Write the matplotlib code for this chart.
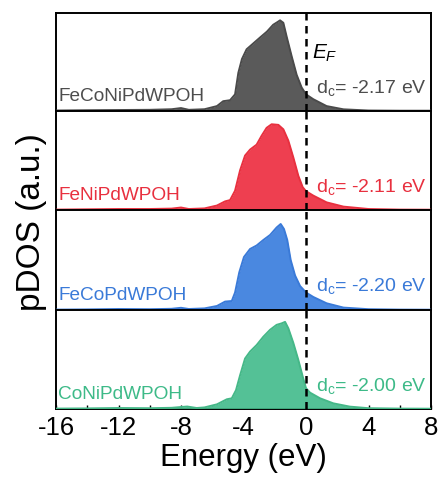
import matplotlib
matplotlib.use("Agg")
import matplotlib.pyplot as plt

plt.rcParams["font.family"] = ["Liberation Sans", "DejaVu Sans"]
plt.rcParams["mathtext.fontset"] = "custom"
plt.rcParams["mathtext.rm"] = "Liberation Sans"
plt.rcParams["mathtext.it"] = "Liberation Sans:italic"
plt.rcParams["axes.unicode_minus"] = False

# Projected d-band density of states (arbitrary units), energy relative to E_F
names = ["FeCoNiPdWPOH", "FeNiPdWPOH", "FeCoPdWPOH", "CoNiPdWPOH"]
d_centers = ["-2.17", "-2.11", "-2.20", "-2.00"]

energy_1 = [-16, -14, -12, -10, -8.6, -8.0, -7.5, -6.5, -5.7, -5.3, -4.86, -4.54, -4.33, -4.1, -3.8, -3.37,
            -2.94, -2.5, -2.1, -1.8, -1.66, -1.45, -1.24, -0.92, -0.6, -0.28, 0.0, 0.47, 1.32, 2.4, 4, 6, 8]
dos_1 = [0.005, 0.008, 0.01, 0.012, 0.018, 0.03, 0.012, 0.018, 0.05, 0.10, 0.11, 0.17, 0.39, 0.53, 0.63, 0.69,
         0.75, 0.81, 0.88, 0.91, 0.925, 0.90, 0.76, 0.56, 0.37, 0.24, 0.17, 0.12, 0.05, 0.017, 0.005, 0.003, 0.003]

energy_2 = [-16, -14, -12, -10, -8.6, -8.0, -7.5, -6.5, -5.7, -5.18, -4.86, -4.54, -4.22, -3.9, -3.58, -3.16,
            -2.84, -2.52, -2.2, -1.77, -1.45, -1.13, -0.81, -0.49, -0.21, 0.0, 0.47, 1.32, 2.4, 4, 6, 8]
dos_2 = [0.004, 0.007, 0.01, 0.01, 0.014, 0.025, 0.01, 0.016, 0.045, 0.087, 0.10, 0.195, 0.40, 0.55, 0.61, 0.66,
         0.75, 0.83, 0.866, 0.86, 0.815, 0.70, 0.53, 0.345, 0.23, 0.19, 0.145, 0.077, 0.034, 0.01, 0.004, 0.003]

energy_3 = [-16, -14, -12, -10, -8.6, -8.0, -7.5, -6.5, -5.7, -5.18, -4.75, -4.54, -4.27, -3.97, -3.58, -3.16,
            -2.73, -2.3, -1.88, -1.62, -1.41, -1.2, -0.98, -0.7, -0.38, 0.0, 0.47, 1.32, 2.4, 4, 6, 8]
dos_3 = [0.004, 0.006, 0.01, 0.008, 0.012, 0.022, 0.01, 0.016, 0.04, 0.084, 0.09, 0.175, 0.377, 0.53, 0.61, 0.645,
         0.70, 0.75, 0.825, 0.86, 0.81, 0.70, 0.50, 0.345, 0.24, 0.175, 0.13, 0.067, 0.024, 0.008, 0.004, 0.003]

energy_4 = [-16, -14, -12, -10, -8.6, -7.6, -7.0, -6.5, -5.7, -5.07, -4.75, -4.48, -4.22, -3.9, -3.58, -3.16,
            -2.73, -2.3, -1.88, -1.56, -1.34, -1.13, -0.81, -0.49, -0.21, 0.0, 0.26, 0.9, 1.75, 2.8, 4, 6, 8]
dos_4 = [0.004, 0.006, 0.01, 0.008, 0.012, 0.025, 0.01, 0.016, 0.047, 0.098, 0.108, 0.19, 0.34, 0.51, 0.58, 0.646,
         0.73, 0.80, 0.85, 0.865, 0.88, 0.815, 0.667, 0.495, 0.327, 0.21, 0.165, 0.108, 0.057, 0.024, 0.008, 0.004, 0.003]

energies = [energy_1, energy_2, energy_3, energy_4]
dos = [dos_1, dos_2, dos_3, dos_4]

fill_colors = ["#5a5a5a", "#ee3f50", "#4a88e0", "#54c196"]
edge_colors = ["#4a4a4a", "#e8303f", "#3a7ad8", "#45b888"]
text_colors = ["#4d4d4d", "#e8303f", "#3a7ad8", "#3dba88"]

x_ticks = [-16, -12, -8, -4, 0, 4, 8]

fig = plt.figure(figsize=(4.43, 4.83), dpi=100)
W, H = 443, 483
left, right = 56, 431
tops = [13, 111, 210, 310]
bottoms = [111, 210, 310, 409]

axes = []
for i in range(4):
    ax = fig.add_axes([left / W, 1 - bottoms[i] / H, (right - left) / W, (bottoms[i] - tops[i]) / H])
    axes.append(ax)
    ax.fill_between(energies[i], dos[i], 0, color=fill_colors[i], lw=0, zorder=2)
    ax.plot(energies[i], dos[i], color=edge_colors[i], lw=1.4, zorder=3)
    ax.axhline(0, color=edge_colors[i], lw=2.0, zorder=4)
    ax.axvline(0, color="black", lw=1.8, ls=(0, (3, 2.2)), zorder=5)
    ax.set_xlim(-16, 8)
    ax.set_ylim(0, 1.0)
    ax.set_yticks([])
    for s in ax.spines.values():
        s.set_linewidth(1.4)
    ax.text(0.006, 0.105, names[i], transform=ax.transAxes, color=text_colors[i],
            fontsize=13.7, ha="left", va="baseline")
    ax.text(0.99, 0.185, r"d$_\mathregular{c}$= " + d_centers[i] + " eV", transform=ax.transAxes,
            color=text_colors[i], fontsize=14, ha="right", va="baseline")
    if i < 3:
        ax.set_xticks([])
    else:
        ax.set_xticks(x_ticks)
        ax.set_xticks(range(-16, 9, 2), minor=True)
        ax.tick_params(axis="x", which="both", direction="in", length=3, width=1.0)

axes[0].text(0.682, 0.535, r"$E_F$", transform=axes[0].transAxes, fontsize=15,
             ha="left", va="baseline")

axes[3].tick_params(axis="x", which="major", labelsize=18.5, pad=5)
axes[3].set_xlabel("Energy (eV)", fontsize=22.5, labelpad=2)

fig.text(32 / W, 1 - 222 / H, "pDOS (a.u.)", rotation=90, fontsize=24,
         ha="center", va="center")

fig.savefig("out.png", dpi=100)
